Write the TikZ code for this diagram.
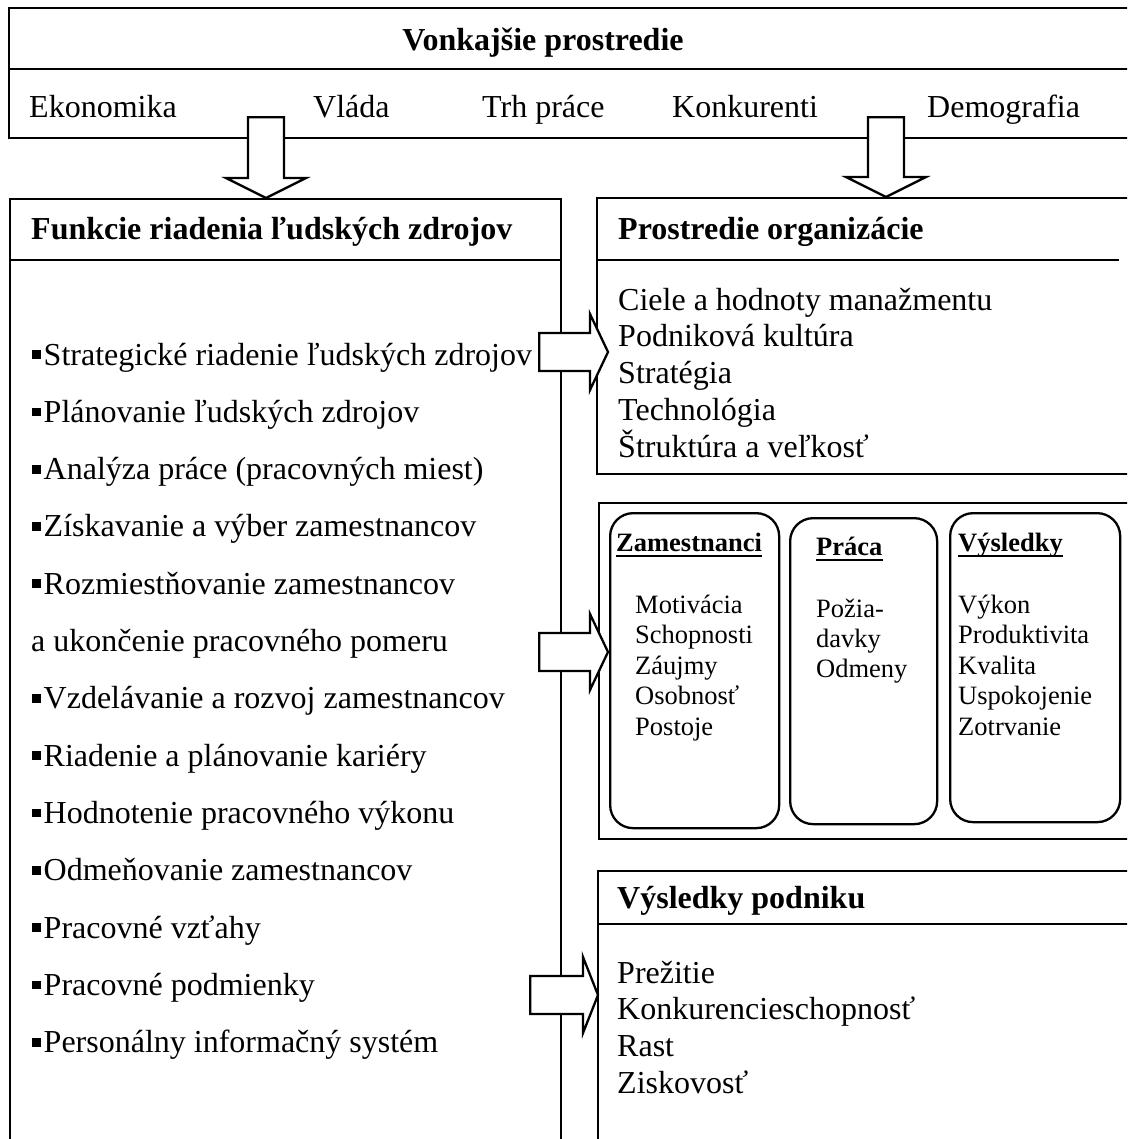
\documentclass[tikz,border=0pt]{standalone}
\usepackage{fontspec}
\setmainfont{Liberation Serif}
\usetikzlibrary{calc}

% small square bullet used in the list of HR functions
\newcommand{\sqbul}{\rule[0.19em]{0.26em}{0.27em}\hspace{0.1em}}

% white block arrow pointing down: #1 = top of shaft, #2 = tip
\newcommand{\blkdown}[2]{%
  \path[blk] let \p1=#1, \p2=#2 in
    (\x2-18pt,\y1) -- (\x2+18pt,\y1) -- (\x2+18pt,\y2+20pt) -- (\x2+40pt,\y2+20pt)
    -- (\x2,\y2) -- (\x2-40pt,\y2+20pt) -- (\x2-18pt,\y2+20pt) -- cycle;}

% white block arrow pointing right: #1 = tail of shaft, #2 = tip, #3 = head length
\newcommand{\blkright}[3]{%
  \path[blk] let \p1=#1, \p2=#2 in
    (\x1,\y2+19pt) -- (\x2-#3,\y2+19pt) -- (\x2-#3,\y2+38pt) -- (\x2,\y2)
    -- (\x2-#3,\y2-38pt) -- (\x2-#3,\y2-19pt) -- (\x1,\y2-19pt) -- cycle;}

\begin{document}
\begin{tikzpicture}[x=1pt,y=-1pt,
  frame/.style={draw, rectangle, anchor=north west, inner sep=0pt, line width=2.3pt},
  rbox/.style={draw, rectangle, rounded corners=23pt, anchor=north west, inner sep=0pt, line width=2.3pt},
  sep/.style={line width=2.3pt},
  blk/.style={draw, fill=white, line width=2.3pt, line join=miter},
  txt/.style={anchor=base west, inner sep=0pt, font=\fontsize{32}{36.8}\selectfont},
  hd/.style={anchor=base west, inner sep=0pt, font=\fontsize{32}{36.8}\selectfont\bfseries},
  stxt/.style={anchor=base west, inner sep=0pt, font=\fontsize{26.5}{30.5}\selectfont},
  shd/.style={anchor=base west, inner sep=0pt, font=\fontsize{26.5}{30.5}\selectfont\bfseries},
  uln/.style={line width=2.2pt}
]
\useasboundingbox (0,0) rectangle (1127,1139);
\clip (0,0) rectangle (1127,1139);

% ---------- external environment ----------
\node[frame, minimum width=1140pt, minimum height=130pt] (ext) at (8,7) {};
\draw[sep] ($(ext.north west)+(0,62)$) -- ($(ext.north east)+(0,62)$);
\node[hd, anchor=base] (vp) at (543,51) {Vonkajšie prostredie};
\node[txt] (eko) at (29,118) {Ekonomika};
\node[txt] (vla) at (313,118) {Vláda};
\node[txt] (trh) at (482,118) {Trh práce};
\node[txt] (kon) at (672,118) {Konkurenti};
\node[txt] (dem) at (927,118) {Demografia};

% ---------- HR functions ----------
\node[frame, minimum width=551pt, minimum height=980pt] (funk) at (9,198) {};
\draw[sep] ($(funk.north west)+(0,62)$) -- ($(funk.north east)+(0,62)$);
\node[hd] (fh) at (31,240) {Funkcie riadenia ľudských zdrojov};
\node[txt] (f1)  at (32,365.0)  {\sqbul Strategické riadenie ľudských zdrojov};
\node[txt] (f2)  at (32,422.3)  {\sqbul Plánovanie ľudských zdrojov};
\node[txt] (f3)  at (32,479.6)  {\sqbul Analýza práce (pracovných miest)};
\node[txt] (f4)  at (32,536.9)  {\sqbul Získavanie a výber zamestnancov};
\node[txt] (f5)  at (32,594.2)  {\sqbul Rozmiestňovanie zamestnancov};
\node[txt] (f5b) at (31,651.5)  {a ukončenie pracovného pomeru};
\node[txt] (f6)  at (32,708.8)  {\sqbul Vzdelávanie a rozvoj zamestnancov};
\node[txt] (f7)  at (32,766.1)  {\sqbul Riadenie a plánovanie kariéry};
\node[txt] (f8)  at (32,823.4)  {\sqbul Hodnotenie pracovného výkonu};
\node[txt] (f9)  at (32,880.7)  {\sqbul Odmeňovanie zamestnancov};
\node[txt] (f10) at (32,938.0)  {\sqbul Pracovné vzťahy};
\node[txt] (f11) at (32,995.3)  {\sqbul Pracovné podmienky};
\node[txt] (f12) at (32,1052.6) {\sqbul Personálny informačný systém};

% ---------- organisational environment ----------
\node[frame, minimum width=560pt, minimum height=276pt] (org) at (596,197) {};
\draw[sep] ($(org.north west)+(0,63)$) -- ($(org.north west)+(523,63)$);
\node[hd] (oh) at (618,240) {Prostredie organizácie};
\foreach \t [count=\i] in {Ciele a hodnoty manažmentu, Podniková kultúra, Stratégia, Technológia, Štruktúra a veľkosť}
  \node[txt] (o\i) at (618,{310+36.8*(\i-1)}) {\t};

% ---------- employees, work, results ----------
\node[frame, minimum width=560pt, minimum height=336pt] (emp) at (598,502) {};
\node[rbox, minimum width=169pt, minimum height=315pt] (zam) at (609,512) {};
\node[rbox, minimum width=147pt, minimum height=306pt] (pra) at (789,517) {};
\node[rbox, minimum width=170pt, minimum height=309pt] (vys) at (949,512) {};

\node[shd] (zh) at (616,551) {Zamestnanci};
\node[shd] (ph) at (816,555) {Práca};
\node[shd] (vh) at (958,551) {Výsledky};
\draw[uln] ([yshift=-5pt]zh.base west) -- ([yshift=-5pt]zh.base east);
\draw[uln] ([yshift=-5pt]ph.base west) -- ([yshift=-5pt]ph.base east);
\draw[uln] ([yshift=-5pt]vh.base west) -- ([yshift=-5pt]vh.base east);

\foreach \t [count=\i] in {Motivácia, Schopnosti, Záujmy, Osobnosť, Postoje}
  \node[stxt] (z\i) at (635,{613+30.5*(\i-1)}) {\t};
\foreach \t [count=\i] in {Požia-, davky, Odmeny}
  \node[stxt] (p\i) at (816,{617+30*(\i-1)}) {\t};
\foreach \t [count=\i] in {Výkon, Produktivita, Kvalita, Uspokojenie, Zotrvanie}
  \node[stxt] (v\i) at (958,{613+30.5*(\i-1)}) {\t};

% ---------- company results ----------
\node[frame, minimum width=560pt, minimum height=300pt] (res) at (597,870) {};
\draw[sep] ($(res.north west)+(0,54)$) -- ($(res.north east)+(0,54)$);
\node[hd] (rh) at (617,908) {Výsledky podniku};
\foreach \t [count=\i] in {Prežitie, Konkurencieschopnosť, Rast, Ziskovosť}
  \node[txt] (r\i) at (617,{983+36.8*(\i-1)}) {\t};

% ---------- block arrows ----------
\blkdown{($(ext.south west)+(258,-22)$)}{($(funk.north west)+(257,0)$)}
\blkdown{($(ext.south west)+(878,-22)$)}{($(org.north west)+(290,0)$)}
\blkright{($(funk.north east)+(-23,154)$)}{($(org.north west)+(12,155)$)}{18pt}
\blkright{($(funk.north east)+(-23,454)$)}{($(emp.north west)+(10,150)$)}{18pt}
\blkright{($(funk.north east)+(-32,797)$)}{($(res.north west)+(1,125)$)}{15pt}
\end{tikzpicture}
\end{document}
